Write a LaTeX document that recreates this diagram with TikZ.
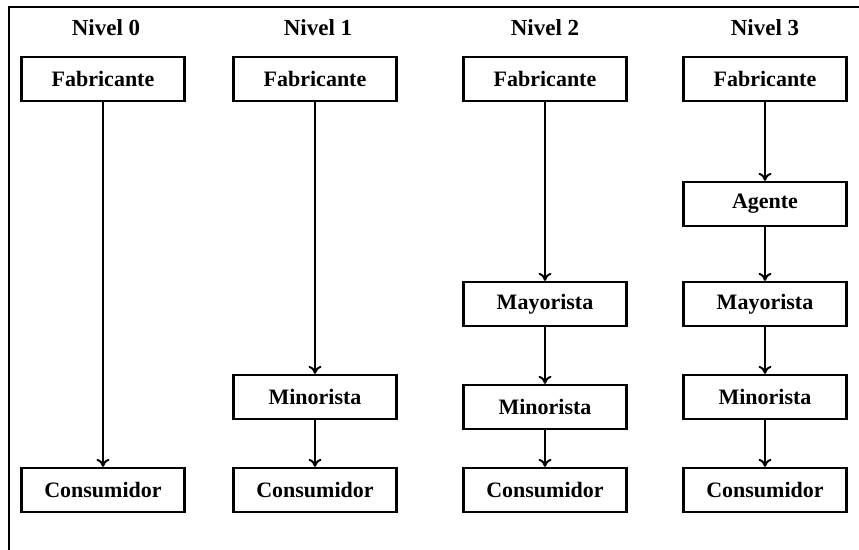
\documentclass[tikz,border=0pt]{standalone}
\usepackage{fontspec}
\setmainfont{Liberation Serif}
\usetikzlibrary{arrows.meta}

\tikzset{
    caja/.style={draw, line width=1.1pt, minimum width=81.5pt, minimum height=22pt,
        font=\bfseries\fontsize{11}{13}\selectfont},
    nivel/.style={font=\bfseries\fontsize{11.5}{13}\selectfont},
    flecha/.style={-{To[length=4pt,width=6.5pt]}, line width=1pt},
}

\begin{document}
\begin{tikzpicture}[x=0.5pt, y=0.5pt]
    \useasboundingbox (0,0) rectangle (859,550);

    % Frame
    \draw[line width=1.1pt] (9,0) -- (9,543) -- (859,543);

    % Level titles
    \foreach \i/\x in {0/106, 1/318, 2/545, 3/765} {
        \node[nivel] (nivel\i) at (\x,522) {Nivel \i};
    }

    % Nivel 0
    \node[caja] (fab0) at (103,471) {Fabricante};
    \node[caja] (con0) at (103,60) {Consumidor};
    \draw[flecha] (fab0) -- (con0);

    % Nivel 1
    \node[caja] (fab1) at (315,471) {Fabricante};
    \node[caja] (min1) at (315,153) {Minorista};
    \node[caja] (con1) at (315,60) {Consumidor};
    \draw[flecha] (fab1) -- (min1);
    \draw[flecha] (min1) -- (con1);

    % Nivel 2
    \node[caja] (fab2) at (545,471) {Fabricante};
    \node[caja] (may2) at (545,246) {Mayorista};
    \node[caja] (min2) at (545,143) {Minorista};
    \node[caja] (con2) at (545,60) {Consumidor};
    \draw[flecha] (fab2) -- (may2);
    \draw[flecha] (may2) -- (min2);
    \draw[flecha] (min2) -- (con2);

    % Nivel 3
    \node[caja] (fab3) at (765,471) {Fabricante};
    \node[caja] (age3) at (765,346) {Agente};
    \node[caja] (may3) at (765,246) {Mayorista};
    \node[caja] (min3) at (765,153) {Minorista};
    \node[caja] (con3) at (765,60) {Consumidor};
    \draw[flecha] (fab3) -- (age3);
    \draw[flecha] (age3) -- (may3);
    \draw[flecha] (may3) -- (min3);
    \draw[flecha] (min3) -- (con3);
\end{tikzpicture}
\end{document}
